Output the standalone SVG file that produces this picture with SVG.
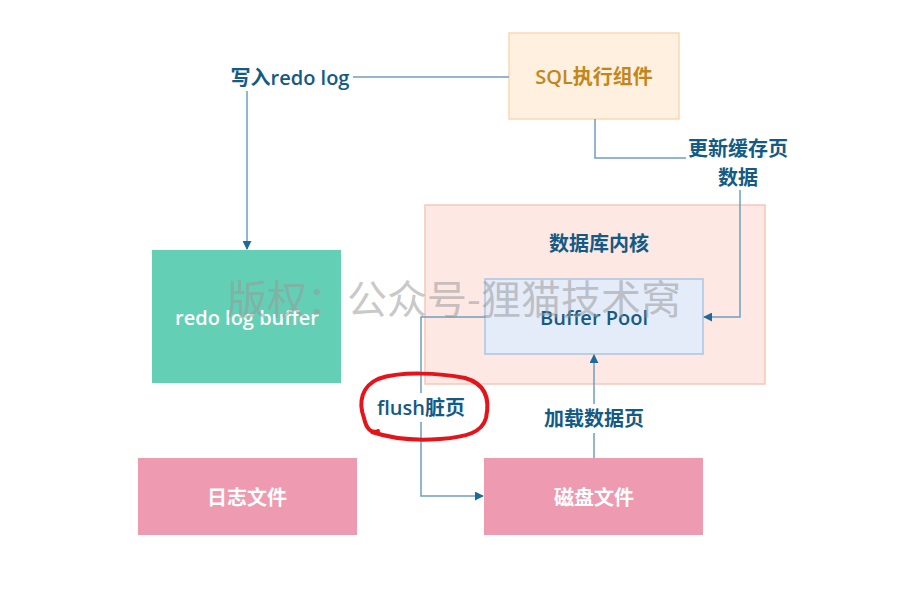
<svg xmlns="http://www.w3.org/2000/svg" width="918" height="590" viewBox="0 0 918 590">
<style>
.lbl{font-family:"Open Sans","Noto Sans CJK SC",sans-serif;font-weight:600;font-size:20px;fill:#135a86;text-anchor:middle;dominant-baseline:central}
.wt{font-family:"Open Sans","Noto Sans CJK SC",sans-serif;font-weight:600;font-size:20px;fill:#ffffff;text-anchor:middle;dominant-baseline:central}
.ln{fill:none;stroke:#6d9fc0;stroke-width:1.5}
</style>
<defs>
<marker id="ah" viewBox="0 0 10 10" refX="9" refY="5" markerWidth="9" markerHeight="9" markerUnits="userSpaceOnUse" orient="auto">
<path d="M0,0 L10,5 L0,10 Z" fill="#1d6a9c"/>
</marker>
</defs>
<rect width="918" height="590" fill="#ffffff"/>
<g id="db-core">
<rect x="425" y="205" width="340" height="179" fill="#fde8e3" stroke="#f8c6b8" stroke-width="1.5"/>
<text class="lbl" x="599" y="243">数据库内核</text>
</g>
<g id="sql">
<rect x="509" y="33" width="170" height="86" fill="#fff0df" stroke="#fcd8ae" stroke-width="1.5"/>
<text class="lbl" x="594" y="76" style="fill:#c3861a">SQL执行组件</text>
</g>
<g id="buffer-pool">
<rect x="485" y="279" width="218" height="75" fill="#e3ecf8" stroke="#a9c5e5" stroke-width="1.5"/>
<text class="lbl" x="594" y="317">Buffer Pool</text>
</g>
<g id="redo-log-buffer">
<rect x="152" y="250" width="189" height="133" fill="#63cfb5"/>
<text class="wt" x="247" y="317">redo log buffer</text>
</g>
<g id="log-file">
<rect x="138" y="458" width="219" height="77" fill="#ee9ab0"/>
<text class="wt" x="247" y="497">日志文件</text>
</g>
<g id="disk-file">
<rect x="484" y="458" width="219" height="77" fill="#ee9ab0"/>
<text class="wt" x="594" y="497">磁盘文件</text>
</g>
<g id="connectors">
<path class="ln" d="M509,77 H353"/>
<path class="ln" d="M247,91 V249" marker-end="url(#ah)"/>
<path class="ln" d="M595,119 V158 H686"/>
<path class="ln" d="M740,190 V317 H704" marker-end="url(#ah)"/>
<path class="ln" d="M485,317 H421 V393"/>
<path class="ln" d="M421,422 V496 H483" marker-end="url(#ah)"/>
<path class="ln" d="M594,458 V433"/>
<path class="ln" d="M594,404 V355" marker-end="url(#ah)"/>
<text class="lbl" x="290" y="77">写入redo log</text>
<text class="lbl" x="738" y="148">更新缓存页</text>
<text class="lbl" x="738" y="177">数据</text>
<text class="lbl" x="421" y="407">flush脏页</text>
<text class="lbl" x="594" y="418">加载数据页</text>
</g>
<path d="M378,431 C370,434 366,427 364,418 C358,402 362,386 378,379 C400,371 440,373 465,378 C486,384 490,400 486,418 C482,432 468,437 440,439 C415,441 390,438 372,432" fill="none" stroke="#e3141a" stroke-width="4" stroke-linecap="round"/>
<text x="454" y="297" font-family="'Noto Sans CJK SC',sans-serif" font-size="40" fill="#9a9a9a" fill-opacity="0.55" text-anchor="middle" dominant-baseline="central">版权：公众号-狸猫技术窝</text>
</svg>
